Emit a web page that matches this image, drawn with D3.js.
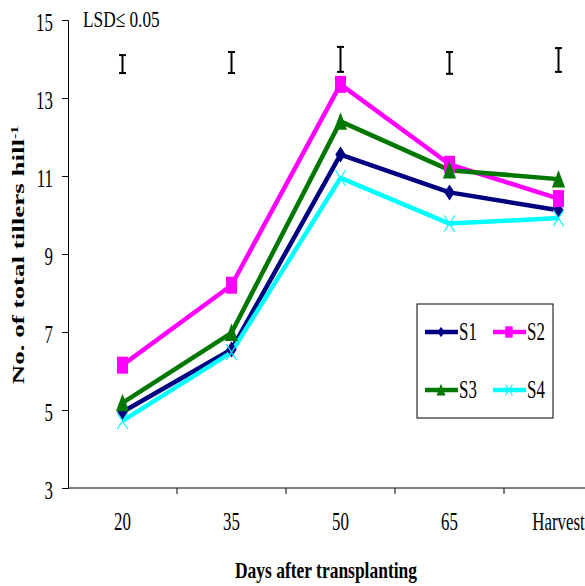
<!DOCTYPE html>
<html>
<head>
<meta charset="utf-8">
<script src="https://cdn.jsdelivr.net/npm/d3@7"></script>
</head>
<body style="margin:0;background:#fff">
<div id="chart"></div>
<script>
var stages = ["20", "35", "50", "65", "Harvest"];
var s1 = [4.95, 6.55, 11.55, 10.58, 10.12];
var s2 = [6.15, 8.2, 13.35, 11.3, 10.42];
var s3 = [5.18, 6.98, 12.4, 11.15, 10.92];
var s4 = [4.72, 6.48, 10.95, 9.78, 9.92];
var lsdTop = [14.1, 14.18, 14.31, 14.18, 14.28];
var lsdBottom = [13.64, 13.64, 13.67, 13.62, 13.67];
var yTicks = [3, 5, 7, 9, 11, 13, 15];

var serif = "'Liberation Serif', 'Times New Roman', serif";
var sx = 0.65; // the original figure is squeezed horizontally

// custom symbols (drawn before the horizontal squeeze)
var diamond = { draw: function(c, size) { var r = Math.sqrt(size) / 2;
  c.moveTo(0, -r); c.lineTo(r, 0); c.lineTo(0, r); c.lineTo(-r, 0); c.closePath(); } };
var square = { draw: function(c, size) { var r = Math.sqrt(size) / 2;
  c.rect(-r, -r, 2 * r, 2 * r); } };
var triangle = { draw: function(c, size) { var r = Math.sqrt(size) / 2;
  c.moveTo(0, -r); c.lineTo(r * 1.1, r * 0.9); c.lineTo(-r * 1.1, r * 0.9); c.closePath(); } };
var cross = { draw: function(c, size) { var r = Math.sqrt(size) / 2;
  c.moveTo(-r, -r); c.lineTo(r, r); c.moveTo(-r, r); c.lineTo(r, -r); } };

var series = [
  { name: "S1", values: s1, color: "#000080", symbol: diamond, size: 256, fill: true },
  { name: "S2", values: s2, color: "#ff00ff", symbol: square, size: 289, fill: true },
  { name: "S3", values: s3, color: "#007800", symbol: triangle, size: 340, fill: true },
  { name: "S4", values: s4, color: "#00ffff", symbol: cross, size: 256, fill: false }
];

var W = 585, H = 586;
var margin = { left: 68, top: 20 };
var plotH = 468;
var step = 109;

var svg = d3.select("#chart").append("svg")
    .attr("width", W)
    .attr("height", H);

var x = d3.scaleBand().domain(stages).range([margin.left, margin.left + stages.length * step]);
var y = d3.scaleLinear().domain([3, 15]).range([margin.top + plotH, margin.top]);

function cx(i) { return x(stages[i]) + x.bandwidth() / 2; }

// x axis
var gx = svg.append("g")
    .attr("transform", "translate(0," + y(3) + ")")
    .call(d3.axisBottom(x).tickSize(0).tickPadding(0));
gx.select(".domain").attr("d", "M" + margin.left + ",0H" + W).attr("stroke", "#000");
gx.selectAll(".tick text")
    .attr("y", 0).attr("dy", 0)
    .attr("transform", "translate(0,42) scale(" + sx + ",1)")
    .attr("fill", "#000")
    .style("font-family", serif).style("font-size", "26px");
gx.selectAll(".edge")
    .data(stages.slice(1))
    .enter().append("line")
    .attr("x1", function(d) { return x(d); })
    .attr("x2", function(d) { return x(d); })
    .attr("y1", 0).attr("y2", 6)
    .attr("stroke", "#000");

// y axis
var gy = svg.append("g")
    .attr("transform", "translate(" + margin.left + ",0)")
    .call(d3.axisLeft(y).tickValues(yTicks).tickSize(6));
gy.selectAll("line, .domain").attr("stroke", "#000");
gy.selectAll(".tick text")
    .attr("x", 0).attr("dy", "0.36em")
    .attr("transform", "translate(-15,1) scale(" + sx + ",1)")
    .attr("fill", "#000")
    .style("font-family", serif).style("font-size", "26px");

// LSD bars
var lsd = svg.append("g").attr("stroke", "#000").attr("stroke-width", 2);
stages.forEach(function(s, i) {
  var xc = cx(i);
  lsd.append("line").attr("x1", xc).attr("x2", xc)
    .attr("y1", y(lsdTop[i])).attr("y2", y(lsdBottom[i]));
  [lsdTop[i], lsdBottom[i]].forEach(function(v) {
    lsd.append("line").attr("x1", xc - 3.5).attr("x2", xc + 3.5)
      .attr("y1", y(v)).attr("y2", y(v));
  });
});

svg.append("text")
    .attr("transform", "translate(83,27) scale(0.72,1)")
    .style("font-family", serif).style("font-size", "24px")
    .text("LSD\u2264 0.05");

// lines
var line = d3.line()
    .x(function(d, i) { return cx(i); })
    .y(function(d) { return y(d); });

series.forEach(function(s) {
  svg.append("path")
      .attr("d", line(s.values))
      .attr("fill", "none")
      .attr("stroke", s.color)
      .attr("stroke-width", 4.5)
      .attr("stroke-linejoin", "round");
});

function marker(sel, s, k) {
  sel.attr("d", d3.symbol().type(s.symbol).size(s.size * k))
    .attr("fill", s.fill ? s.color : "none")
    .attr("stroke", s.color)
    .attr("stroke-width", s.fill ? 0 : 1.5);
}

series.forEach(function(s) {
  svg.selectAll(null)
      .data(s.values)
      .enter().append("path")
      .attr("transform", function(d, i) { return "translate(" + cx(i) + "," + y(d) + ") scale(" + sx + ",1)"; })
      .call(marker, s, 1);
});

// legend
var lg = svg.append("g").attr("transform", "translate(417,304)");
lg.append("rect").attr("width", 136).attr("height", 114)
    .attr("fill", "#fff").attr("stroke", "#000").attr("stroke-width", 1);
var legPos = [[8, 28], [76, 28], [8, 86], [76, 86]];
series.forEach(function(s, i) {
  var p = legPos[i];
  var it = lg.append("g").attr("transform", "translate(" + p[0] + "," + p[1] + ")");
  it.append("line").attr("x1", 0).attr("x2", 33)
    .attr("stroke", s.color).attr("stroke-width", 4.5);
  it.append("path").attr("transform", "translate(16,0) scale(" + sx + ",1)")
    .call(marker, s, 0.45);
  it.append("text").attr("transform", "translate(34,8) scale(" + sx + ",1)")
    .style("font-family", serif).style("font-size", "26px")
    .text(s.name);
});

// axis titles
svg.append("text")
    .attr("x", 326).attr("y", 578)
    .attr("text-anchor", "middle")
    .attr("textLength", 182).attr("lengthAdjust", "spacingAndGlyphs")
    .style("font-family", serif).style("font-size", "23px").style("font-weight", "bold")
    .text("Days after transplanting");

var yt = svg.append("text")
    .attr("transform", "translate(24,255) scale(" + sx + ",1) rotate(-90)")
    .attr("text-anchor", "middle")
    .style("font-family", serif).style("font-size", "27px").style("font-weight", "bold");
yt.append("tspan").text("No. of total tillers hill");
yt.append("tspan").attr("dy", -10).style("font-size", "16px").text("-1");
</script>
</body>
</html>
